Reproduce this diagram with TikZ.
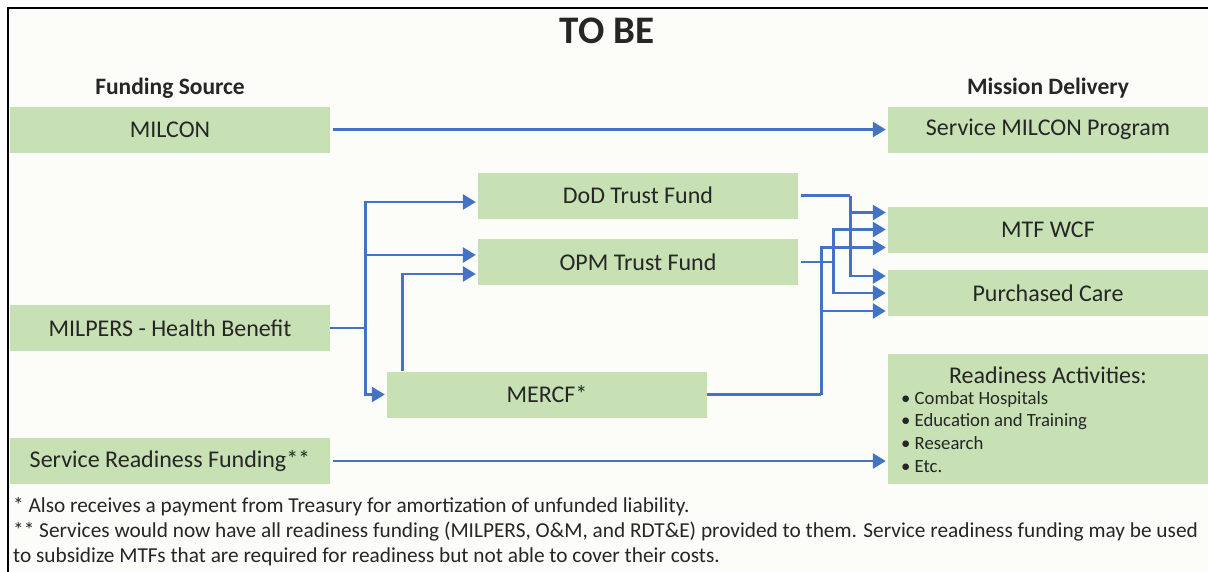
\documentclass[tikz,border=0pt]{standalone}
\usepackage{fontspec}
\setmainfont{Carlito}
\usetikzlibrary{positioning, calc, arrows.meta}
\definecolor{boxGreen}{RGB}{199, 224, 180}
\definecolor{flowBlue}{RGB}{68, 114, 196}
\definecolor{inkGray}{RGB}{38, 38, 38}
\definecolor{pageWhite}{RGB}{252, 252, 249}

\begin{document}
\begin{tikzpicture}[x=1pt, y=-1pt,
    fundbox/.style={fill=boxGreen, minimum width=320pt, minimum height=46pt,
      inner sep=0pt, text=inkGray, font=\fontsize{24}{28}\selectfont},
    headtext/.style={text=inkGray, font=\fontsize{23.5}{27}\selectfont\bfseries},
    notetext/.style={text=inkGray, anchor=west, inner sep=0pt,
      font=\fontsize{21.3}{25}\selectfont},
    link/.style={draw=flowBlue, line width=2.7pt, shorten <=3pt},
    flow/.style={link, -{Triangle[length=13pt, width=15pt]}, shorten >=2pt}]
    %
    % Layout: sources on the left (x=[10,330]), trust funds and MERCF in the
    % middle, mission delivery on the right (x=[888,1208], cut by the page).
    %

    %% ── page and frame ──────────────────────────────────────────────
    \useasboundingbox (0,0) rectangle (1208,571);
    \clip (0,0) rectangle (1208,571);
    \fill[pageWhite] (8,8) rectangle (1230,600);
    \draw[black, line width=2.5pt] (8,8) rectangle (1230,600);
    \node[text=inkGray, font=\fontsize{39}{43}\selectfont\bfseries] (title) at (607,31) {TO BE};

    %% ── funding sources (left) ──────────────────────────────────────
    \node[headtext] (srchead) at (170,88) {Funding Source};
    \node[fundbox] (milcon)   at (170,129.5) {MILCON};
    \node[fundbox] (milpers)  at (170,328)   {MILPERS - Health Benefit};
    \node[fundbox] (readfund) at (170,461)   {Service Readiness Funding**};

    %% ── funds (middle) ──────────────────────────────────────────────
    \node[fundbox] (dodtf) at (638,195.5) {DoD Trust Fund};
    \node[fundbox] (opmtf) at (638,262)   {OPM Trust Fund};
    \node[fundbox] (mercf) at (547,394.5) {MERCF*};

    %% ── mission delivery (right) ────────────────────────────────────
    \node[headtext] (delhead) at (1048,88) {Mission Delivery};
    \node[fundbox] (svcmilcon) at (1048,129.5) {Service MILCON Program};
    \node[fundbox] (mtfwcf)    at (1048,229.5) {MTF WCF};
    \node[fundbox] (purcare)   at (1048,293)   {Purchased Care};
    \node[fundbox, minimum height=130pt] (readact) at (1048,419) {};
    \node[text=inkGray, font=\fontsize{24}{27}\selectfont] (readtitle)
      at (1048,375) {Readiness Activities:};
    \node[text=inkGray, font=\fontsize{18.7}{22.7}\selectfont, align=left,
          anchor=north west, inner sep=0pt] (readlist) at (901,391)
      {\textbullet\ Combat Hospitals\\ \textbullet\ Education and Training\\
       \textbullet\ Research\\ \textbullet\ Etc.};

    %% ── straight flows ──────────────────────────────────────────────
    \draw[flow] (milcon) -- (svcmilcon);
    \draw[flow] (readfund) -- (readfund -| readact.west);

    %% ── MILPERS split into the three funds ──────────────────────────
    \coordinate (hbjoin) at ($(milpers.east)+(35,0)$);
    \draw[link, shorten <=0pt] (milpers.east) -- (hbjoin);
    \draw[flow, shorten <=0pt] (hbjoin) |- ($(dodtf.west)+(0,6.5)$);
    \draw[flow, shorten <=0pt] (hbjoin) |- ($(opmtf.west)+(0,-7)$);
    \draw[flow, shorten <=0pt] (hbjoin) |- (mercf.west);
    \draw[flow, shorten <=0pt] ($(mercf.north west)+(16,0)$) |- ($(opmtf.west)+(0,12)$);

    %% ── funds into MTF WCF and Purchased Care ───────────────────────
    \coordinate (dodjoin) at ($(dodtf.east)+(52,0)$);
    \coordinate (opmjoin) at ($(opmtf.east)+(35,0)$);
    \coordinate (mercfjoin) at ($(mercf.east)+(114,0)$);
    \draw[link] (dodtf.east) -- (dodjoin);
    \draw[link] (opmtf.east) -- (opmjoin);
    \draw[link, shorten <=0pt] (mercf.east) -- (mercfjoin);
    \draw[flow, shorten <=0pt] (dodjoin) |- ($(mtfwcf.west)+(0,-17)$);
    \draw[flow, shorten <=0pt] (dodjoin) |- ($(purcare.west)+(0,-17)$);
    \draw[flow, shorten <=0pt] (opmjoin) |- (mtfwcf.west);
    \draw[flow, shorten <=0pt] (opmjoin) |- (purcare.west);
    \draw[flow, shorten <=0pt] (mercfjoin) |- ($(mtfwcf.west)+(0,18)$);
    \draw[flow, shorten <=0pt] (mercfjoin) |- ($(purcare.west)+(0,18)$);

    %% ── footnotes ───────────────────────────────────────────────────
    \node[notetext] (note1) at (13,507)
      {* Also receives a payment from Treasury for amortization of unfunded liability.};
    \node[notetext] (note2) at (13,532)
      {** Services would now have all readiness funding (MILPERS, O\&M, and RDT\&E) provided to them. Service readiness funding may be used};
    \node[notetext] (note3) at (13,557)
      {to subsidize MTFs that are required for readiness but not able to cover their costs.};

\end{tikzpicture}
\end{document}
